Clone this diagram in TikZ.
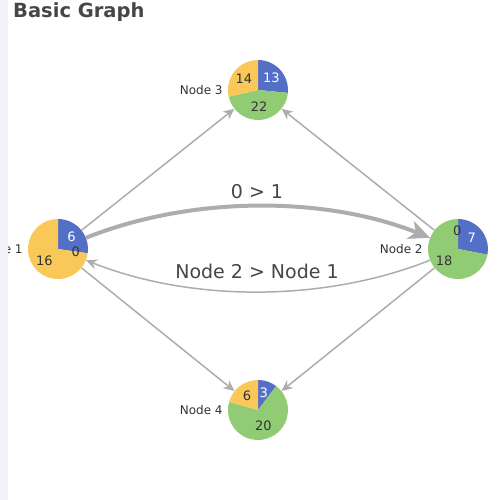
\documentclass[tikz,border=0pt]{standalone}
\usepackage{fontspec}
\setmainfont{DejaVu Sans}
\usetikzlibrary{arrows.meta,positioning}
\definecolor{pieblue}{HTML}{5470C6}
\definecolor{piegreen}{HTML}{91CC75}
\definecolor{pieyellow}{HTML}{FAC858}
\definecolor{edgegray}{HTML}{ADADAD}
\definecolor{textgray}{HTML}{333333}
\definecolor{titlegray}{HTML}{464646}
\definecolor{sidebar}{HTML}{F2F3F8}
\newcommand{\pieslice}[4]{\fill[#4] (#1.center) -- ([shift={(#2:30)}]#1.center) arc[start angle=#2, end angle=#3, radius=30] -- cycle;}
\begin{document}
\begin{tikzpicture}[
            x=1pt, y=1pt,
            pie/.style={circle, minimum size=60pt, inner sep=0pt},
            pielbl/.style={font=\fontsize{13}{13}\selectfont, text=textgray, inner sep=0pt},
            pielblw/.style={pielbl, text=white},
            namelbl/.style={font=\fontsize{12}{12}\selectfont, text=textgray, inner sep=0pt},
            edgelbl/.style={font=\fontsize{19}{19}\selectfont, text=titlegray, inner sep=0pt},
            edge/.style={draw=edgegray, line width=1.5pt, -{Stealth[length=11pt,width=10pt,inset=3.5pt]}},
            bigedge/.style={draw=edgegray, line width=4pt, -{Stealth[length=21pt,width=19pt,inset=6pt]}},
        ]
        \fill[white] (0,0) rectangle (500,500);
        \useasboundingbox (0,0) rectangle (500,500);
        \node[anchor=base west, font=\fontsize{19.5}{19.5}\selectfont\bfseries, text=titlegray, inner sep=0pt] (title) at (13,482) {Basic Graph};
        % nodes
        \node[pie] (n1) at (58,251) {};
        \node[pie] (n2) at (458,251) {};
        \node[pie] (n3) at (258,410) {};
        \node[pie] (n4) at (258,90) {};
        % pies
        \pieslice{n1}{90}{-8.18}{pieblue}
        \pieslice{n1}{-8.18}{-270}{pieyellow}
        \pieslice{n2}{90}{-10.8}{pieblue}
        \pieslice{n2}{-10.8}{-270}{piegreen}
        \pieslice{n3}{90}{-5.51}{pieblue}
        \pieslice{n3}{-5.51}{-167.14}{piegreen}
        \pieslice{n3}{-167.14}{-270}{pieyellow}
        \pieslice{n4}{90}{52.76}{pieblue}
        \pieslice{n4}{52.76}{-195.52}{piegreen}
        \pieslice{n4}{-195.52}{-270}{pieyellow}
        % edges
        \draw[edge] (n1) -- (n3);
        \draw[edge] (n2) -- (n3);
        \draw[edge] (n1) -- (n4);
        \draw[edge] (n2) -- (n4);
        \draw[bigedge] (n1) .. controls (191.3,304.3) and (324.7,304.3) .. (n2);
        \draw[edge] (n2) .. controls (324.7,197.7) and (191.3,197.7) .. (n1);
        \node[edgelbl] (lbl12) at (257,308) {0 > 1};
        \node[edgelbl] (lbl21) at (257,229) {Node 2 > Node 1};
        % pie values
        \node[pielblw] (v1a) at ([shift={(40.9:18)}]n1.center) {6};
        \node[pielbl] (v1b) at ([shift={(-8.18:18)}]n1.center) {0};
        \node[pielbl] (v1c) at ([shift={(-139.1:18)}]n1.center) {16};
        \node[pielblw] (v2a) at ([shift={(39.6:18)}]n2.center) {7};
        \node[pielbl] (v2b) at ([shift={(-140.4:18)}]n2.center) {18};
        \node[pielbl] (v2c) at ([shift={(92:18)}]n2.center) {0};
        \node[pielblw] (v3a) at ([shift={(42.2:18)}]n3.center) {13};
        \node[pielbl] (v3b) at ([shift={(-86.3:17)}]n3.center) {22};
        \node[pielbl] (v3c) at ([shift={(-218.6:18)}]n3.center) {14};
        \node[pielblw] (v4a) at ([shift={(71.4:18)}]n4.center) {3};
        \node[pielbl] (v4b) at ([shift={(-71.4:17)}]n4.center) {20};
        \node[pielbl] (v4c) at ([shift={(-232.8:18)}]n4.center) {6};
        % names
        \node[namelbl, left=5pt of n1] (name1) {Node 1};
        \node[namelbl, left=5pt of n2] (name2) {Node 2};
        \node[namelbl, left=5pt of n3] (name3) {Node 3};
        \node[namelbl, left=5pt of n4] (name4) {Node 4};
        \fill[sidebar] (0,0) rectangle (8,500);
        \end{tikzpicture}
\end{document}
